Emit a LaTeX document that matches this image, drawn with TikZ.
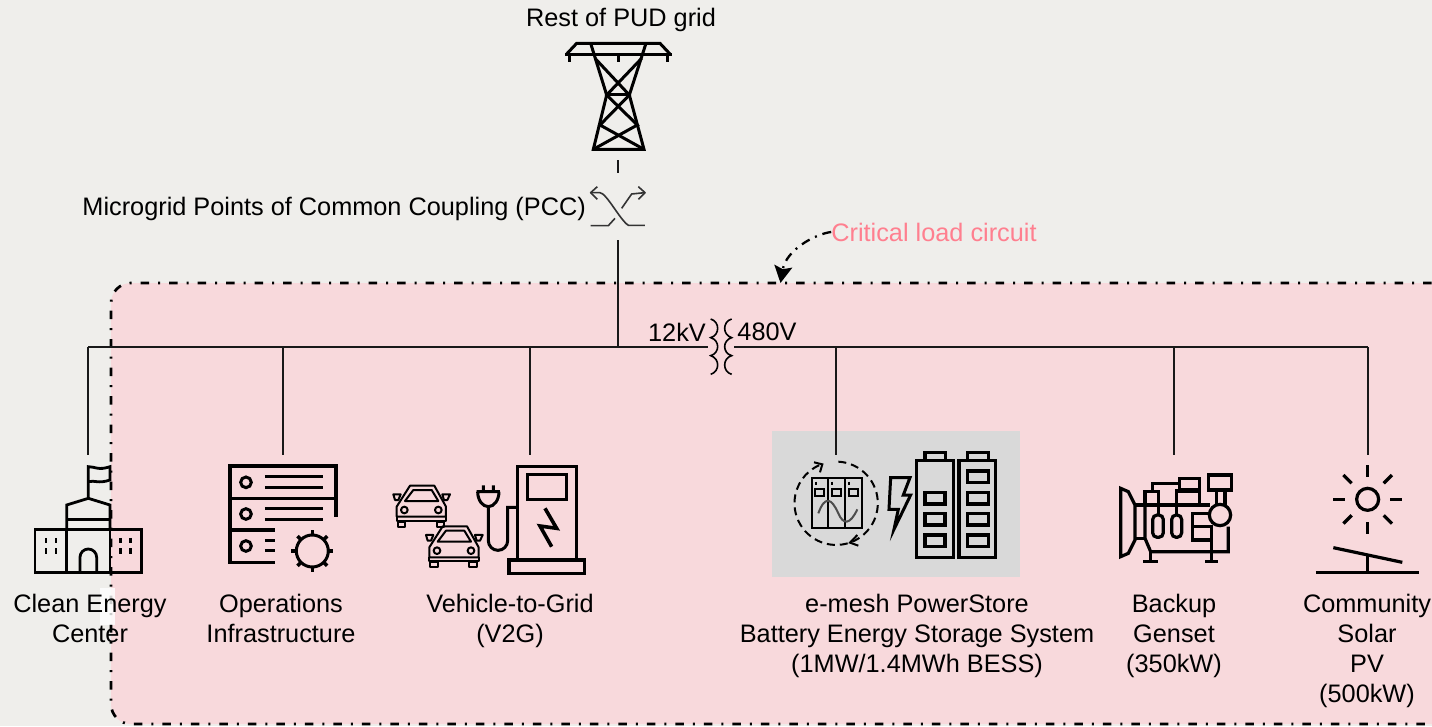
\documentclass[tikz,border=0pt]{standalone}
\usepackage{fontspec}
\setmainfont{Liberation Sans}
\usepackage{tikz}
\usetikzlibrary{arrows.meta}
\definecolor{pagebg}{HTML}{EFEEEB}
\definecolor{critfill}{HTML}{F8D9DC}
\definecolor{critlabel}{HTML}{FF7F8F}
\definecolor{bessfill}{HTML}{D9D9D9}
\tikzset{
    lab/.style={font=\fontsize{25.3}{30}\selectfont, align=center, inner sep=0pt},
    wire/.style={line width=2pt, color=black!90},
    icon/.style={line width=2.8pt, line join=miter},
    heavy/.style={line width=3.6pt},
    zoomed/.style={x=0.3333pt, y=-0.3333pt},
    critline/.style={line width=2.7pt, dash pattern=on 8.5pt off 9pt on 2pt off 9pt},
}
\begin{document}
\begin{tikzpicture}[x=1pt, y=-1pt]
\useasboundingbox (0,0) rectangle (1432,726);
\fill [pagebg] (0,0) rectangle (1432,726);
\fill [critfill, rounded corners=20pt] (111,283) rectangle (1460,724);
\fill [bessfill] (772,431) rectangle (1020,577);
\draw [critline, rounded corners=20pt] (1460,283) -- (111,283) -- (111,724) -- (1460,724);
\fill [white, opacity=0.8] (100,588) rectangle (115,625);

\begin{scope}
    \node [lab] (grid) at (621,20) {Rest of PUD grid};
    \node [lab, anchor=east] (pcc) at (586,209) {Microgrid Points of Common Coupling (PCC)};
    \node [lab, text=critlabel] (crit) at (934,232) {Critical load circuit};
    \node [lab] (hv) at (677,332) {12kV};
    \node [lab] (lv) at (767,332) {480V};
    \node [lab, anchor=north] (cec) at (90,594) {Clean Energy\\Center};
    \node [lab, anchor=north] (ops) at (281,594) {Operations\\Infrastructure};
    \node [lab, anchor=north] (vtg) at (510,594) {Vehicle-to-Grid\\(V2G)};
    \node [lab, anchor=north] (bess) at (917,594) {e-mesh PowerStore\\Battery Energy Storage System\\(1MW/1.4MWh BESS)};
    \node [lab, anchor=north] (gen) at (1174,594) {Backup\\Genset\\(350kW)};
    \node [lab, anchor=north] (pv) at (1367,594) {Community\\Solar\\PV\\(500kW)};

    \coordinate (towerFoot) at (618,160);
    \coordinate (pccTop) at (618,173);
    \coordinate (pccFoot) at (618,240);
    \coordinate (tee) at (618,347);
    \coordinate (busCec) at (88,347);
    \coordinate (busOps) at (283,347);
    \coordinate (busVtg) at (530,347);
    \coordinate (busHv) at (708,347);
    \coordinate (busLv) at (734,347);
    \coordinate (busBess) at (836,347);
    \coordinate (busGen) at (1174,347);
    \coordinate (busPv) at (1368,347);
    \coordinate (cecTop) at (88,455);
    \coordinate (opsTop) at (283,455);
    \coordinate (vtgTop) at (530,455);
    \coordinate (bessTop) at (836,455);
    \coordinate (genTop) at (1174,455);
    \coordinate (pvTop) at (1368,455);
    \coordinate (critTip) at (780.5,283);

    \path [wire] (towerFoot) edge (pccTop);
    \path [wire] (pccFoot) edge (tee);
    \path [wire] (busCec) edge (busHv);
    \path [wire] (busLv) edge (busPv);
    \path [wire] (busCec) edge (cecTop);
    \path [wire] (busOps) edge (opsTop);
    \path [wire] (busVtg) edge (vtgTop);
    \path [wire] (busBess) edge (bessTop);
    \path [wire] (busGen) edge (genTop);
    \path [wire] (busPv) edge (pvTop);
    \draw [line width=2.3pt, dash pattern=on 9pt off 6pt on 2pt off 6pt, -{Stealth[length=17pt,width=18pt,inset=3pt]}]
        (crit.west) .. controls (815,234) and (786,250) .. (critTip);
\end{scope}

% transformer
\begin{scope}[shift={(640,215)}, zoomed, line width=1.6pt]
    \draw (212,312) .. controls (240,320) and (240,360) .. (212,368)
        .. controls (240,376) and (240,414) .. (212,422)
        .. controls (240,430) and (240,470) .. (212,478);
    \draw (275,312) .. controls (247,320) and (247,360) .. (275,368)
        .. controls (247,376) and (247,414) .. (275,422)
        .. controls (247,430) and (247,470) .. (275,478);
\end{scope}

% tower and PCC switch
\begin{scope}[shift={(540,30)}, zoomed, icon, line width=3pt]
    \draw (88,95) -- (88,72) (235,95) -- (235,72) (382,95) -- (382,72);
    \draw (75,72) -- (395,72);
    \draw (80,72) -- (110,40) -- (360,40) -- (390,72);
    \draw (152,40) -- (200,195) -- (160,358) -- (312,358) -- (268,195) -- (318,40);
    \draw (165,85) -- (268,195) -- (180,285) -- (312,358);
    \draw (305,85) -- (200,195) -- (292,285) -- (160,358);
    \draw (200,195) -- (268,195);
    \begin{scope}[line width=1.6pt, line join=round, black!80]
    \draw (172,470) -- (152,488) -- (172,508);
    \draw (152,488) -- (180,488) .. controls (200,490) and (240,570) .. (265,586) -- (315,586);
    \draw (152,587) -- (205,587) -- (225,565);
    \draw (245,535) -- (275,492) -- (315,488);
    \draw (295,470) -- (315,488) -- (295,508);
    \end{scope}
\end{scope}

% clean energy center
\begin{scope}[shift={(0,450)}, zoomed, icon]
    \draw (265,145) -- (265,50) .. controls (285,50) and (295,62) .. (330,50) -- (330,90)
        .. controls (295,102) and (285,90) .. (265,95);
    \draw (200,238) -- (200,165) -- (265,145) -- (330,165) -- (330,238);
    \draw (200,208) -- (330,208);
    \draw (105,238) rectangle (425,368);
    \draw (200,238) -- (200,368) (330,238) -- (330,368);
    \draw (240,368) -- (240,322) arc (180:360:25) -- (290,368);
    \foreach \wx in {138,168,362,392}
        \draw (\wx,264) -- (\wx,280) (\wx,295) -- (\wx,311);
\end{scope}

% operations infrastructure
\begin{scope}[shift={(0,450)}, zoomed, heavy]
    \draw (1008,200) -- (1008,48) -- (690,48) -- (690,337) -- (825,337);
    \draw (690,145) -- (1008,145);
    \draw (690,240) -- (825,240);
    \foreach \sy in {97,192,288}
        \draw [line width=3pt] (738,\sy) circle (16);
    \draw [line width=3pt] (795,80) -- (968,80) (795,113) -- (968,113)
        (795,175) -- (968,175) (795,208) -- (968,208)
        (795,271) -- (825,271) (795,303) -- (825,303);
    \draw [line width=3pt] (937,303) circle (48);
    \foreach \ang in {0,45,...,315}
        \draw (937,303) ++(\ang:48) -- ++(\ang:15);
\end{scope}

% vehicle to grid
\begin{scope}[shift={(385,450)}, zoomed, heavy]
    \draw (398,330) -- (398,50) -- (575,50) -- (575,330);
    \draw (372,330) rectangle (598,370);
    \draw (428,73) rectangle (545,148);
    \draw (480,175) -- (515,235) -- (465,228) -- (500,290);
    \draw [line width=3pt] (398,172) -- (368,172) -- (368,272) arc (0:180:29) -- (310,170);
    \draw [line width=3pt] (275,125) -- (345,125) (278,125) arc (180:0:32 and 45) (295,106) -- (295,125) (325,106) -- (325,125);
    \foreach \cx/\cy in {0/0,98/122} {
        \begin{scope}[shift={(\cx,\cy)}, line width=2pt, line join=round]
            \draw (35,200) -- (35,170) -- (75,107) -- (148,107) -- (183,170) -- (183,200) -- cycle;
            \draw (60,153) -- (85,120) -- (140,120) -- (160,153) -- cycle;
            \draw (58,180) circle (10) (160,180) circle (10);
            \draw (35,200) -- (35,212) -- (183,212) -- (183,200);
            \draw (38,215) rectangle (60,230) (155,215) rectangle (177,230);
            \draw (25,133) -- (47,133) -- (40,150) -- (30,150) -- cycle;
            \draw (172,133) -- (195,133) -- (187,150) -- (177,150) -- cycle;
        \end{scope}
    }
\end{scope}

% powerstore and batteries
\begin{scope}[shift={(770,430)}, zoomed]
    \begin{scope}[line width=2pt]
    \draw [dash pattern=on 8pt off 5pt] (205,95) arc (-87:247:125);
    \draw (132,97) -- (157,103) -- (150,127);
    \draw (262,315) -- (240,338) -- (265,347);
    \draw (125,145) rectangle (275,295);
    \draw (175,145) -- (175,295) (225,145) -- (225,295);
    \draw (135,178) rectangle (163,197) (187,178) rectangle (213,197) (238,178) rectangle (264,197);
    \draw (137,155) -- (137,166) (187,155) -- (187,166) (237,155) -- (237,166);
    \draw [black!70] (145,250) .. controls (165,195) and (185,205) .. (205,250)
        .. controls (220,285) and (240,285) .. (262,238);
    \end{scope}
    \draw [line width=3pt] (362,143) -- (420,143) -- (400,195) -- (422,195) -- (372,298) -- (385,238) -- (357,238) -- cycle;
    \begin{scope}[heavy]
    \draw (440,92) rectangle (550,383) (465,68) rectangle (527,92);
    \draw (567,92) rectangle (677,383) (592,68) rectangle (655,92);
    \foreach \cy in {187,250,315}
        \draw (465,\cy) rectangle (525,\cy+35);
    \foreach \cy in {123,187,250,315}
        \draw (592,\cy) rectangle (655,\cy+35);
    \end{scope}
\end{scope}

% genset and solar
\begin{scope}[shift={(1110,455)}, zoomed, icon, line width=3.2pt]
    \draw (32,100) -- (55,110) -- (75,150) -- (75,255) -- (55,295) -- (32,305) -- cycle;
    \draw (75,150) -- (300,150) (75,250) -- (105,250);
    \draw (105,150) -- (105,250) -- (122,290) -- (355,290) -- (355,215);
    \draw (105,150) -- (105,110) -- (145,110) -- (145,180);
    \draw (128,110) -- (128,85) -- (210,85);
    \draw (208,70) rectangle (268,105);
    \draw (200,180) -- (200,108) -- (268,108) -- (268,150);
    \draw [rounded corners=4.5pt] (128,180) rectangle (160,247);
    \draw [rounded corners=4.5pt] (185,180) rectangle (215,247);
    \draw (122,290) -- (122,320) (100,320) -- (145,320) (305,290) -- (305,320) (285,320) -- (325,320);
    \draw (330,180) circle (32);
    \draw (300,175) -- (248,175) -- (248,255) -- (305,255) (248,215) -- (305,215);
    \draw (305,210) -- (305,290);
    \draw (295,60) rectangle (365,105);
    \draw (320,105) -- (320,150) (345,105) -- (345,150);

    \draw (773,133) circle (33);
    \foreach \ang in {0,45,...,315}
        \draw (773,133) ++(\ang:68) -- ++(\ang:35);
    \draw (670,278) -- (877,322);
    \draw (773,302) -- (773,352);
    \draw (618,352) -- (928,352);
\end{scope}
\end{tikzpicture}
\end{document}
